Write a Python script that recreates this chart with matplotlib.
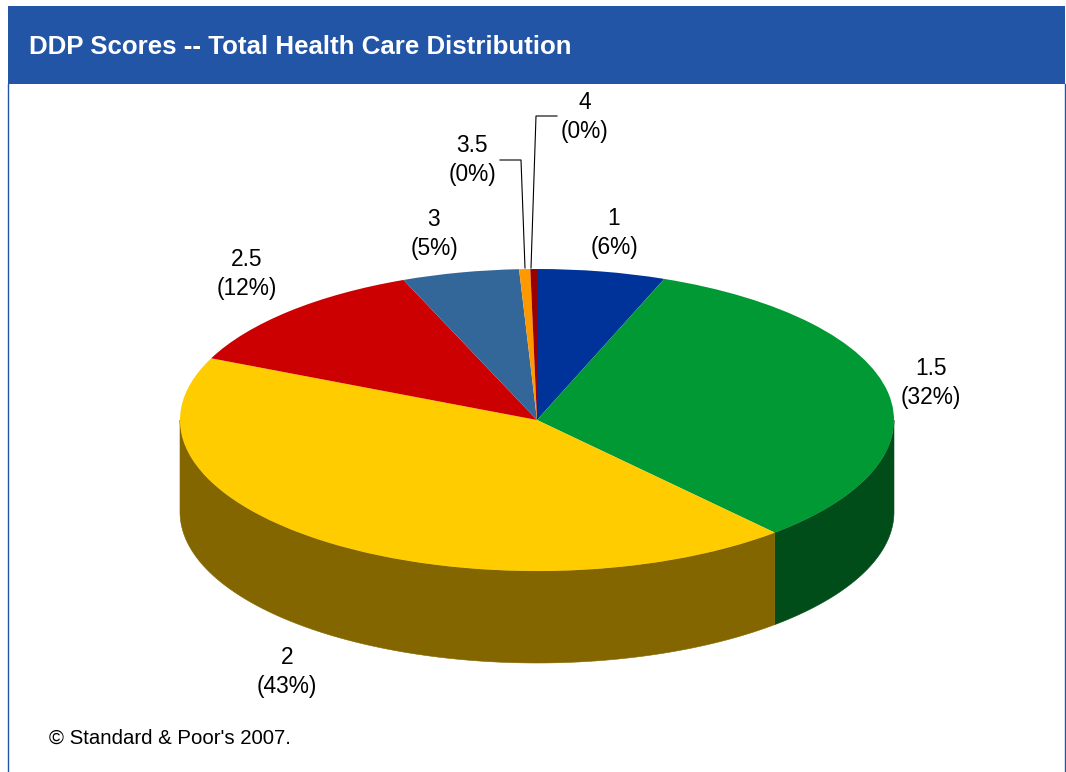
import numpy as np
import matplotlib
matplotlib.use("Agg")
import matplotlib.pyplot as plt
from matplotlib.patches import Rectangle

scores = ["1", "1.5", "2", "2.5", "3", "3.5", "4"]
shares = [5.8, 32.6, 43.3, 12.2, 5.3, 0.5, 0.3]
percent_labels = ["6%", "32%", "43%", "12%", "5%", "0%", "0%"]
top_colors = ["#003399", "#009933", "#FFCC00", "#CC0000", "#336699", "#FF9900", "#990000"]
side_colors = ["#001A4D", "#004D1A", "#836600", "#660000", "#1A334D", "#804D00", "#4D0000"]
label_pos = [(614, 233), (931, 383), (287, 672), (247, 274), (434, 234), (472, 160), (585, 117)]

title = "DDP Scores -- Total Health Care Distribution"
footer = "\u00a9 Standard & Poor's 2007."

W, H = 1066, 772
CX, CY, RX, RY, DEPTH = 537, 420, 357, 151, 92

plt.rcParams["font.family"] = ["Liberation Sans", "DejaVu Sans"]
fig = plt.figure(figsize=(W / 100, H / 100), dpi=100, facecolor="white")

# pie axes: unit circle squashed into an ellipse, covers the whole figure
ax = fig.add_axes([0, 0, 1, 1])
ax.axis("off")

# side wall, only the front half of the rim shows
depth = DEPTH / RY
edges = np.cumsum([0] + shares) / sum(shares) * 360
for i in range(len(shares)):
    a0 = max(edges[i], 90)
    a1 = min(edges[i + 1], 270)
    if a1 <= a0:
        continue
    t = np.radians(np.linspace(a0, a1, 120))
    x = np.sin(t)
    y = np.cos(t)
    ax.fill(np.r_[x, x[::-1]], np.r_[y, y[::-1] - depth], color=side_colors[i], lw=0.4, zorder=1)

ax.pie(shares, colors=top_colors, startangle=90, counterclock=False,
       wedgeprops={"linewidth": 0}, radius=1)
ax.set_aspect("auto")
ax.set_xlim(-CX / RX, (W - CX) / RX)
ax.set_ylim(-(H - CY) / RY, CY / RY)

# overlay in pixel coordinates for the frame, header and labels
ov = fig.add_axes([0, 0, 1, 1], facecolor="none")
ov.set_xlim(0, W)
ov.set_ylim(H, 0)
ov.axis("off")

ov.add_patch(Rectangle((8, 6), 1057, 78, facecolor="#2355A6", edgecolor="none"))
ov.plot([8, 8], [84, H], color="#2355A6", lw=1.0)
ov.plot([1065, 1065], [84, H], color="#2355A6", lw=1.0)
ov.text(29, 47, title, color="white", fontsize=18.6, fontweight="bold", ha="left", va="center")
ov.text(49, 738, footer, color="black", fontsize=14.7, ha="left", va="center")

for name, pct, (lx, ly) in zip(scores, percent_labels, label_pos):
    ov.text(lx, ly, name + "\n(" + pct + ")", fontsize=16.4, color="black",
            ha="center", va="center", linespacing=1.38)

# leader lines for the two thin slices
ov.plot([500, 521, 525], [160, 160, 268], color="black", lw=0.8)
ov.plot([557, 536, 531], [116, 116, 268], color="black", lw=0.8)

fig.savefig("out.png", dpi=100)
